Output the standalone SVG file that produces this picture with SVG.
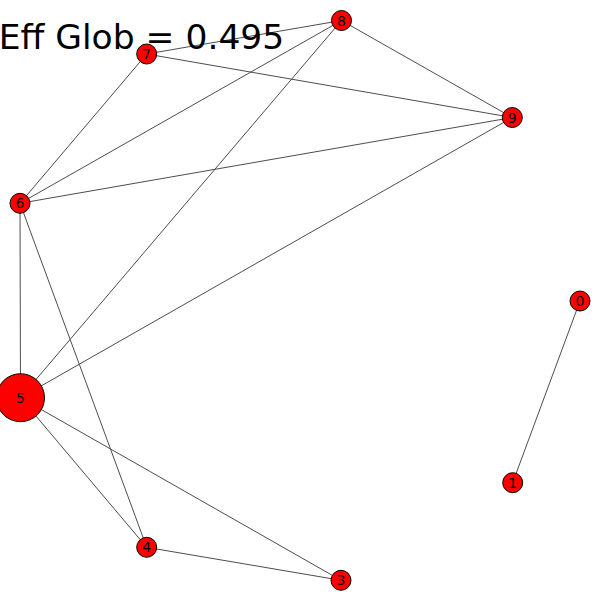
<svg xmlns="http://www.w3.org/2000/svg" width="600" height="600" viewBox="0 0 600 600">
<style>
.e{stroke:#4d4d4d;stroke-width:1;fill:none}
.n circle{fill:#ff0000;stroke:#000;stroke-width:1}
.n text{font-family:"DejaVu Sans",sans-serif;font-size:14px;text-anchor:middle;dominant-baseline:central;fill:#000}
.t{font-family:"DejaVu Sans",sans-serif;font-size:34.5px;fill:#000;text-anchor:middle}
</style>
<rect width="600" height="600" fill="#fff"/>
<g id="connectors">
<line class="e" x1="580" y1="301" x2="512.7" y2="482.7"/>
<line class="e" x1="146.7" y1="54" x2="341.5" y2="20.5"/>
<line class="e" x1="146.7" y1="54" x2="512.3" y2="117.5"/>
<line class="e" x1="146.7" y1="54" x2="20" y2="203.3"/>
<line class="e" x1="341.5" y1="20.5" x2="20" y2="203.3"/>
<line class="e" x1="341.5" y1="20.5" x2="20.5" y2="397.7"/>
<line class="e" x1="341.5" y1="20.5" x2="512.3" y2="117.5"/>
<line class="e" x1="512.3" y1="117.5" x2="20" y2="203.3"/>
<line class="e" x1="512.3" y1="117.5" x2="20.5" y2="397.7"/>
<line class="e" x1="20" y1="203.3" x2="20.5" y2="397.7"/>
<line class="e" x1="20" y1="203.3" x2="146.7" y2="547.3"/>
<line class="e" x1="20.5" y1="397.7" x2="146.7" y2="547.3"/>
<line class="e" x1="20.5" y1="397.7" x2="341" y2="580.3"/>
<line class="e" x1="146.7" y1="547.3" x2="341" y2="580.3"/>
</g>
<g id="node0" class="n"><circle cx="580" cy="301" r="10"/><text x="580" y="301">0</text></g>
<g id="node1" class="n"><circle cx="512.7" cy="482.7" r="10"/><text x="512.7" y="482.7">1</text></g>
<g id="node3" class="n"><circle cx="341" cy="580.3" r="10"/><text x="341" y="580.3">3</text></g>
<g id="node4" class="n"><circle cx="146.7" cy="547.3" r="10"/><text x="146.7" y="547.3">4</text></g>
<g id="node5" class="n"><circle cx="20.5" cy="397.7" r="24"/><text x="20.5" y="397.7">5</text></g>
<g id="node6" class="n"><circle cx="20" cy="203.3" r="10"/><text x="20" y="203.3">6</text></g>
<g id="node7" class="n"><circle cx="146.7" cy="54" r="10"/><text x="146.7" y="54">7</text></g>
<g id="node8" class="n"><circle cx="341.5" cy="20.5" r="10"/><text x="341.5" y="20.5">8</text></g>
<g id="node9" class="n"><circle cx="512.3" cy="117.5" r="10"/><text x="512.3" y="117.5">9</text></g>
<text class="t" x="141.5" y="49">Eff Glob = 0.495</text>
</svg>
